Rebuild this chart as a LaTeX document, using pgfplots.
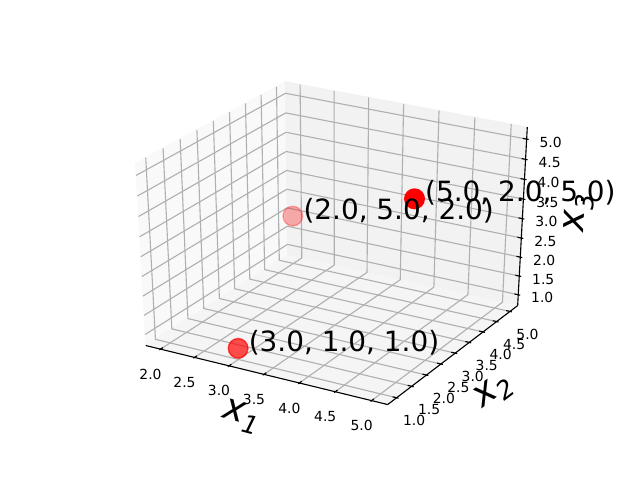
\documentclass[border=0pt]{standalone}
\usepackage{fontspec}
\setmainfont{DejaVu Sans}
\usepackage{pgfplots}
\pgfplotsset{compat=1.18}
\definecolor{gridc}{HTML}{B0B0B0}
\pgfplotsset{
  /pgfplots/table/proj/.style={
    x expr={projx(\thisrow{a},\thisrow{b},\thisrow{c})},
    y expr={projy(\thisrow{a},\thisrow{b},\thisrow{c})},
    row sep=\\},
  ticklab/.style n args={3}{draw=none,mark=none,nodes near coords={#1},
    every node near coord/.append style={anchor=center,inner sep=0pt,xshift=#2,yshift=#3,
      font=\fontsize{13.89}{16}\selectfont,text=black}},
  ptlab/.style n args={3}{draw=none,mark=none,nodes near coords={#1},
    every node near coord/.append style={anchor=base west,inner sep=0pt,xshift=#2,yshift=#3,
      font=\fontsize{27.9}{32}\selectfont,text=black}},
  gridl/.style={gridc,line width=1.11pt},
  axl/.style={black,line width=1.11pt},
}
\newcommand\sub[1]{\raisebox{-0.22em}{\fontsize{25}{28}\selectfont\itshape #1}}
\begin{document}
\begin{tikzpicture}
\begin{axis}[
  scale only axis,width=640pt,height=480pt,
  xmin=0,xmax=640,ymin=0,ymax=480,
  hide axis,clip=false,
  declare function={
    normx(\a)=(\a-1.85)/3.3-0.5;
    normy(\b)=(\b-0.8)/4.4-0.5;
    normz(\c)=(\c-0.8)/4.4-0.5;
    persw(\a,\b,\c)=10-(0.43301*normx(\a)-0.75*normy(\b)+0.5*normz(\c));
    projx(\a,\b,\c)=80+2681.08*((0.86603*normx(\a)+0.5*normy(\b))/persw(\a,\b,\c)+0.095);
    projy(\a,\b,\c)=52.8+1997.84*((-0.25*normx(\a)+0.43301*normy(\b)+0.86603*normz(\c))/persw(\a,\b,\c)+0.095);
  },
]
\path (axis cs:0,0) rectangle (axis cs:640,480);
% panes
\addplot[fill={rgb,1:red,0.975;green,0.975;blue,0.975},draw={rgb,1:red,0.975;green,0.975;blue,0.975},line width=1pt]
  table[proj]{a b c\\ 1.78125 0.70833 0.70833\\ 1.78125 5.29167 0.70833\\ 1.78125 5.29167 5.29167\\ 1.78125 0.70833 5.29167\\ 1.78125 0.70833 0.70833\\};
\addplot[fill={rgb,1:red,0.95;green,0.95;blue,0.95},draw={rgb,1:red,0.95;green,0.95;blue,0.95},line width=1pt]
  table[proj]{a b c\\ 1.78125 5.29167 0.70833\\ 5.21875 5.29167 0.70833\\ 5.21875 5.29167 5.29167\\ 1.78125 5.29167 5.29167\\ 1.78125 5.29167 0.70833\\};
\addplot[fill={rgb,1:red,0.9625;green,0.9625;blue,0.9625},draw={rgb,1:red,0.9625;green,0.9625;blue,0.9625},line width=1pt]
  table[proj]{a b c\\ 1.78125 0.70833 0.70833\\ 5.21875 0.70833 0.70833\\ 5.21875 5.29167 0.70833\\ 1.78125 5.29167 0.70833\\ 1.78125 0.70833 0.70833\\};
% grid
\pgfplotsinvokeforeach{2.0,2.5,3.0,3.5,4.0,4.5,5.0}{
  \addplot[gridl] table[proj]{a b c\\ #1 0.70833 0.70833\\ #1 5.29167 0.70833\\ #1 5.29167 5.29167\\};
}
\pgfplotsinvokeforeach{1.0,1.5,2.0,2.5,3.0,3.5,4.0,4.5,5.0}{
  \addplot[gridl] table[proj]{a b c\\ 5.21875 #1 0.70833\\ 1.78125 #1 0.70833\\ 1.78125 #1 5.29167\\};
  \addplot[gridl] table[proj]{a b c\\ 5.21875 5.29167 #1\\ 1.78125 5.29167 #1\\ 1.78125 0.70833 #1\\};
}
% axis lines
\addplot[axl] table[proj]{a b c\\ 1.78125 0.70833 0.70833\\ 5.21875 0.70833 0.70833\\};
\addplot[axl] table[proj]{a b c\\ 5.21875 0.70833 0.70833\\ 5.21875 5.29167 0.70833\\};
\addplot[axl] table[proj]{a b c\\ 5.21875 5.29167 0.70833\\ 5.21875 5.29167 5.29167\\};
% ticks and tick labels
\pgfplotsinvokeforeach{2.0,2.5,3.0,3.5,4.0,4.5,5.0}{
  \addplot[axl] table[proj]{a b c\\ #1 0.67167 0.70833\\ #1 0.78167 0.70833\\};
  \addplot[ticklab={#1}{-10pt}{-25pt}] table[proj]{a b c\\ #1 0.70833 0.70833\\};
}
\pgfplotsinvokeforeach{1.0,1.5,2.0,2.5,3.0,3.5,4.0,4.5,5.0}{
  \addplot[axl] table[proj]{a b c\\ 5.24625 #1 0.70833\\ 5.16375 #1 0.70833\\};
  \addplot[ticklab={#1}{17.5pt}{-23pt}] table[proj]{a b c\\ 5.21875 #1 0.70833\\};
  \addplot[axl] table[proj]{a b c\\ 5.24625 5.29167 #1\\ 5.16375 5.29167 #1\\};
  \addplot[ticklab={#1}{24pt}{-3pt}] table[proj]{a b c\\ 5.21875 5.29167 #1\\};
}
% points
\addplot[only marks,mark=*,mark size=9.8pt,
  mark options={fill=red,draw=red,line width=1.39pt,opacity=0.69}]
  table[proj]{a b c\\ 3 1 1\\};
\addplot[only marks,mark=*,mark size=9.8pt,
  mark options={fill=red,draw=red,line width=1.39pt,opacity=0.3}]
  table[proj]{a b c\\ 2 5 2\\};
\addplot[only marks,mark=*,mark size=9.8pt,
  mark options={fill=red,draw=red,line width=1.39pt,opacity=1}]
  table[proj]{a b c\\ 5 2 5\\};
% point labels
\addplot[ptlab={(3.0, 1.0, 1.0)}{10.5pt}{-3pt}] table[proj]{a b c\\ 3 1 1\\};
\addplot[ptlab={(2.0, 5.0, 2.0)}{10.5pt}{-3pt}] table[proj]{a b c\\ 2 5 2\\};
\addplot[ptlab={(5.0, 2.0, 5.0)}{10.5pt}{-3pt}] table[proj]{a b c\\ 5 2 5\\};
% axis labels
\node[rotate=-15,inner sep=0pt,font=\fontsize{37}{40}\selectfont] at (axis cs:241,63) {{\itshape x}\sub{1}};
\node[rotate=37,inner sep=0pt,font=\fontsize{37}{40}\selectfont] at (axis cs:494,88) {{\itshape x}\sub{2}};
\node[rotate=87,inner sep=0pt,font=\fontsize{37}{40}\selectfont] at (axis cs:579,267) {{\itshape x}\sub{3}};
\end{axis}
\end{tikzpicture}
\end{document}
